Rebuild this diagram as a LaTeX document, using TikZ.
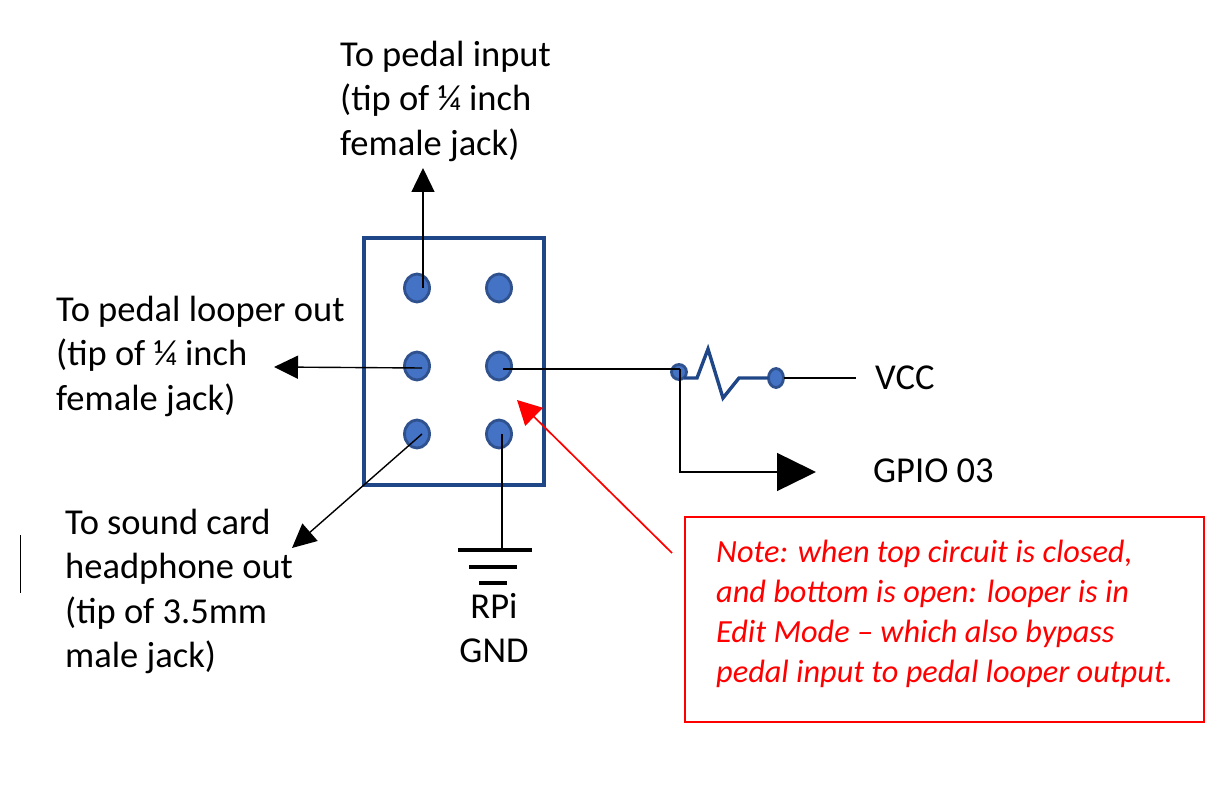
\documentclass[tikz,border=0pt]{standalone}
\usepackage{fontspec}
\setmainfont{Carlito}
\usetikzlibrary{shapes.geometric,arrows.meta}
\definecolor{padfill}{HTML}{4472C4}
\definecolor{padline}{HTML}{2F528F}
\definecolor{boxline}{HTML}{1F4788}
\tikzset{
  pad/.style={ellipse,draw=padline,line width=2.8pt,fill=padfill,minimum width=25pt,minimum height=28pt,inner sep=0pt,outer sep=0pt},
  smallpad/.style={ellipse,draw=padline,line width=2.8pt,fill=padfill,inner sep=0pt,outer sep=0pt},
  label/.style={align=left,anchor=north west,inner sep=0pt,font=\fontsize{36.5}{44.4}\selectfont,text=black},
  wire/.style={draw=black,line width=1.4pt},
  bigarrow/.style={wire,-{Triangle[length=24pt,width=23pt]}},
  hugearrow/.style={wire,-{Triangle[length=39pt,width=38pt]}},
  gndbar/.style={draw=black,line width=3.5pt},
  note/.style={draw=red,line width=1.5pt,minimum width=519pt,minimum height=205pt,anchor=north west,inner sep=0pt,outer sep=0pt},
}
\begin{document}
\begin{tikzpicture}[x=1pt,y=-1pt]
\useasboundingbox (0,0) rectangle (1230,791);
\fill[white] (0,0) rectangle (1230,791);
% connector box
\node[draw=boxline,line width=3.4pt,minimum width=180pt,minimum height=247pt,anchor=north west,inner sep=0pt,outer sep=0pt] (box) at (364,238) {};
\node[pad] (p1) at (417,288) {};
\node[pad] (p2) at (499,288) {};
\node[pad] (p3) at (417,366) {};
\node[pad] (p4) at (499,366) {};
\node[pad] (p5) at (417,434) {};
\node[pad] (p6) at (499,434) {};
% resistor
\node[smallpad,minimum width=15pt,minimum height=15pt] (r1) at (679,372) {};
\node[smallpad,minimum width=15pt,minimum height=19pt] (r2) at (776,378) {};
\coordinate (r1o) at (684,378);
\draw[draw=boxline,line width=3.4pt,line join=miter] (r1o) -- (697,378) -- (708,349) -- (723,398) -- (739,378) -- (r2);
% labels
\node[label] (t1) at (340,41) {To pedal input\\(tip of ¼ inch\\female jack)};
\node[label] (t2) at (56,296) {To pedal looper out\\(tip of ¼ inch\\female jack)};
\node[label] (t3) at (65,509) {To sound card\\headphone out\\(tip of 3.5mm\\male jack)};
\node[label] (t4) at (875,366) {VCC};
\node[label] (t5) at (873,459) {GPIO 03};
\node[label,align=center,anchor=north] (t6) at (494,593) {RPi\\GND};
% connectors
\coordinate (a1) at (423,288);
\coordinate (a1e) at (423,168);
\coordinate (a2) at (422,368);
\coordinate (a2e) at (274,367);
\coordinate (a3) at (422,434);
\coordinate (a3e) at (292,548);
\coordinate (a4) at (503,369);
\coordinate (a5) at (502,434);
\coordinate (j) at (680,369);
\coordinate (j2) at (680,472);
\coordinate (a6e) at (816,472);
\coordinate (vcc) at (856,378);
\coordinate (g1) at (502,550);
\draw[bigarrow] (a1) -- (a1e);
\draw[bigarrow] (a2) -- (a2e);
\draw[bigarrow] (a3) -- (a3e);
\draw[wire] (a4) -- (j);
\draw[hugearrow] (j) -- (j2) -- (a6e);
\draw[wire] (r2) -- (vcc);
\draw[wire] (a5) -- (g1);
\coordinate (g1a) at (458,550); \coordinate (g1b) at (532,550);
\coordinate (g2a) at (469,567); \coordinate (g2b) at (517,567);
\coordinate (g3a) at (479,583); \coordinate (g3b) at (507,583);
\draw[gndbar] (g1a) -- (g1b);
\draw[gndbar] (g2a) -- (g2b);
\draw[gndbar] (g3a) -- (g3b);
% note
\node[note] (n) at (685,517) {};
\node[label,text=red,font=\fontsize{32.3}{40}\selectfont\itshape] (nt) at (716,540) {Note: when top circuit is closed,\\and bottom is open: looper is in\\Edit Mode – which also bypass\\pedal input to pedal looper output.};
\coordinate (ra) at (672,553);
\coordinate (rb) at (517,400);
\draw[draw=red,line width=1.7pt,-{Triangle[length=24pt,width=25pt]}] (ra) -- (rb);
% stray mark
\coordinate (s1) at (20,535); \coordinate (s2) at (20,593);
\draw[draw=black,line width=1pt] (s1) -- (s2);
\end{tikzpicture}
\end{document}
